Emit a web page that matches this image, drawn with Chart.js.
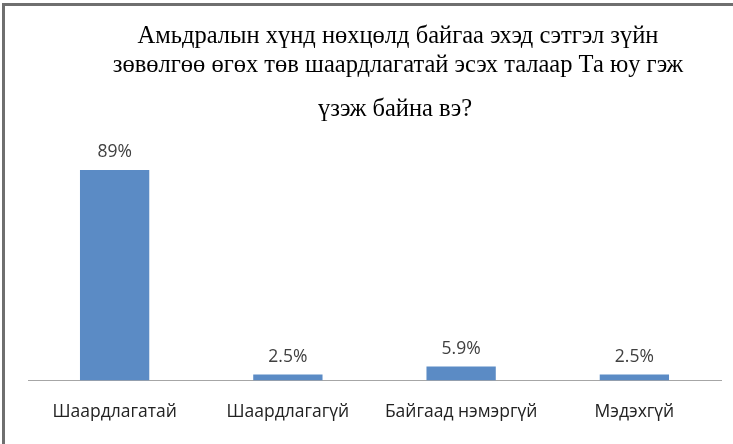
<!DOCTYPE html>
<html>
<head>
<meta charset="utf-8">
<script src="https://cdn.jsdelivr.net/npm/chart.js@4"></script>
<style>
  html, body { margin: 0; padding: 0; background: #fff; }
  #frame { position: absolute; left: 2px; top: 3px; width: 731px; height: 441px;
           border-left: 3px solid #6f6f6f; border-top: 3px solid #6f6f6f; box-sizing: border-box; }
  #wrap { position: absolute; left: 0; top: 0; width: 733px; height: 444px; }
</style>
</head>
<body>
<div id="frame"></div>
<div id="wrap"><canvas id="c" width="733" height="444"></canvas></div>
<script>
const titleLines = [
  "Амьдралын хүнд нөхцөлд байгаа эхэд сэтгэл зүйн",
  "зөвөлгөө өгөх төв шаардлагатай эсэх талаар Та юу гэж",
  "үзэж байна вэ?"
];
const categories = ["Шаардлагатай", "Шаардлагагүй", "Байгаад нэмэргүй", "Мэдэхгүй"];
const values = [89, 2.5, 5.9, 2.5];
const valueLabels = ["89%", "2.5%", "5.9%", "2.5%"];

const titlePlugin = {
  id: 'customTitle',
  afterDraw(chart) {
    const ctx = chart.ctx;
    ctx.save();
    ctx.fillStyle = '#000';
    ctx.font = '24.5px "Liberation Serif", "Times New Roman", serif';
    ctx.textAlign = 'center';
    ctx.textBaseline = 'middle';
    const ys = [37, 66, 110];
    const xs = [398, 398, 395];
    titleLines.forEach((t, i) => ctx.fillText(t, xs[i], ys[i]));
    ctx.restore();
  }
};

const labelPlugin = {
  id: 'valueLabels',
  afterDatasetsDraw(chart) {
    const ctx = chart.ctx;
    const meta = chart.getDatasetMeta(0);
    ctx.save();
    ctx.fillStyle = '#404040';
    ctx.font = '17.5px "Open Sans", sans-serif';
    ctx.textAlign = 'center';
    ctx.textBaseline = 'middle';
    meta.data.forEach((bar, i) => {
      ctx.fillText(valueLabels[i], bar.x, bar.y - 18);
    });
    ctx.restore();
  }
};

new Chart(document.getElementById('c'), {
  type: 'bar',
  data: {
    labels: categories,
    datasets: [{
      data: values,
      backgroundColor: '#5b8bc5',
      borderWidth: 0,
      barPercentage: 0.4,
      categoryPercentage: 1.0
    }]
  },
  options: {
    responsive: false,
    animation: false,
    devicePixelRatio: 1,
    layout: { padding: { top: 144, left: 28, right: 12, bottom: 0 } },
    plugins: { legend: { display: false }, tooltip: { enabled: false }, title: { display: false } },
    scales: {
      x: {
        grid: { display: false, drawTicks: false },
        border: { display: true, color: '#a6a6a6', width: 1 },
        ticks: { color: '#222', font: { family: '"Open Sans", sans-serif', size: 17.5, lineHeight: 1.0 }, padding: 23, maxRotation: 0 }
      },
      y: {
        display: false,
        min: 0, max: 100
      }
    }
  },
  plugins: [titlePlugin, labelPlugin]
});
</script>
</body>
</html>
